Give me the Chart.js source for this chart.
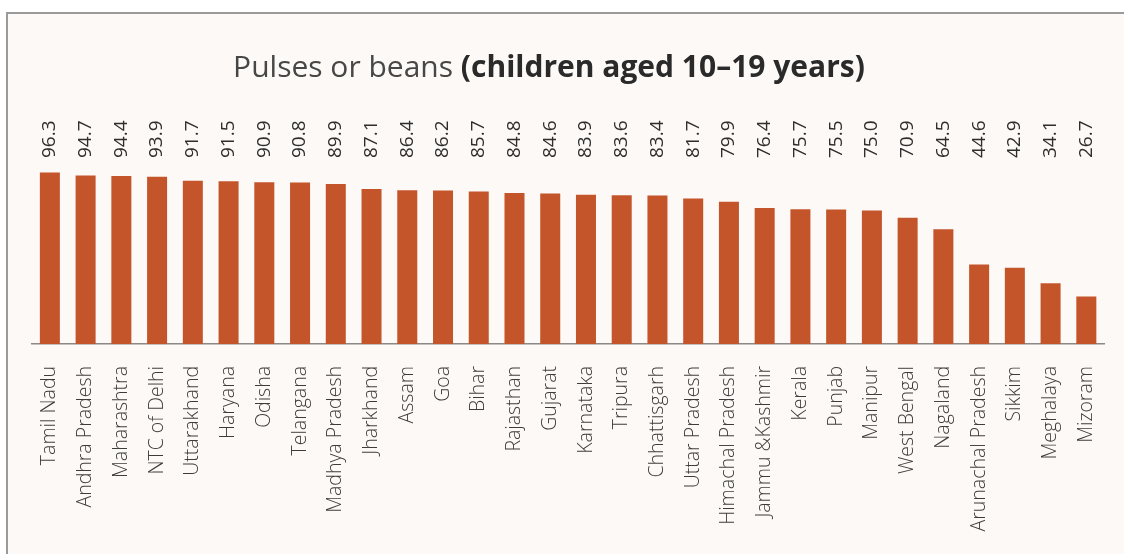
<!DOCTYPE html>
<html>
<head>
<meta charset="utf-8">
<script src="https://cdn.jsdelivr.net/npm/chart.js@4.4.1/dist/chart.umd.min.js"></script>
<style>
  html, body { margin: 0; padding: 0; background: #fff; overflow: hidden; width: 1124px; height: 554px; }
  .frame {
    position: absolute; left: 6px; top: 12px;
    width: 1130px; height: 560px;
    border: 2px solid #9a9a9a;
    background: #fdf9f6;
  }
  .frame canvas { position: absolute; left: 0; top: 0; }
</style>
</head>
<body>
<div class="frame">
  <canvas id="chart" width="1116" height="540"></canvas>
</div>
<script>
const states = [
  'Tamil Nadu', 'Andhra Pradesh', 'Maharashtra', 'NTC of Delhi', 'Uttarakhand',
  'Haryana', 'Odisha', 'Telangana', 'Madhya Pradesh', 'Jharkhand', 'Assam', 'Goa',
  'Bihar', 'Rajasthan', 'Gujarat', 'Karnataka', 'Tripura', 'Chhattisgarh',
  'Uttar Pradesh', 'Himachal Pradesh', 'Jammu &Kashmir', 'Kerala', 'Punjab',
  'Manipur', 'West Bengal', 'Nagaland', 'Arunachal Pradesh', 'Sikkim',
  'Meghalaya', 'Mizoram'
];
const pulses = [
  96.3, 94.7, 94.4, 93.9, 91.7, 91.5, 90.9, 90.8, 89.9, 87.1, 86.4, 86.2,
  85.7, 84.8, 84.6, 83.9, 83.6, 83.4, 81.7, 79.9, 76.4, 75.7, 75.5, 75.0,
  70.9, 64.5, 44.6, 42.9, 34.1, 26.7
];
const titleMain = 'Pulses or beans ';
const titleBold = '(children aged 10–19 years)';

// title with two weights, drawn centred
const titlePlugin = {
  id: 'mixedTitle',
  afterDraw(chart) {
    const ctx = chart.ctx;
    ctx.save();
    ctx.textBaseline = 'middle';
    ctx.font = '400 30px "Open Sans"';
    const w1 = ctx.measureText(titleMain).width;
    ctx.font = '700 30px "Open Sans"';
    const w2 = ctx.measureText(titleBold).width;
    let x = 541 - (w1 + w2) / 2;
    const y = 54;
    ctx.textAlign = 'left';
    ctx.font = '400 30px "Open Sans"';
    ctx.fillStyle = '#474747';
    ctx.fillText(titleMain, x, y);
    ctx.font = '700 30px "Open Sans"';
    ctx.fillStyle = '#2a2a2a';
    ctx.fillText(titleBold, x + w1, y);
    ctx.restore();
  }
};

// value labels, all on one row above the bars
const valuePlugin = {
  id: 'valueRow',
  afterDatasetsDraw(chart) {
    const ctx = chart.ctx;
    const meta = chart.getDatasetMeta(0);
    ctx.save();
    ctx.font = '400 19px "Open Sans"';
    ctx.fillStyle = '#2e2e2e';
    ctx.textAlign = 'left';
    ctx.textBaseline = 'middle';
    meta.data.forEach((bar, i) => {
      ctx.save();
      ctx.translate(bar.x, 144);
      ctx.rotate(-Math.PI / 2);
      ctx.fillText(pulses[i].toFixed(1), 0, 0);
      ctx.restore();
    });
    ctx.restore();
  }
};

new Chart(document.getElementById('chart'), {
  type: 'bar',
  data: {
    labels: states,
    datasets: [{
      label: 'Pulses or beans',
      data: pulses,
      backgroundColor: '#c4552b',
      categoryPercentage: 1,
      barPercentage: 0.56,
    }],
  },
  options: {
    responsive: false,
    animation: false,
    layout: { padding: { top: 152, left: 24, right: 16, bottom: 0 } },
    plugins: { legend: { display: false }, tooltip: { enabled: false }, title: { display: false } },
    scales: {
      x: {
        grid: { display: false },
        border: { display: true, color: '#8a8a8a', width: 1.5 },
        ticks: {
          color: '#3c3c3c',
          font: { family: 'Open Sans', size: 19.5, weight: 300 },
          minRotation: 90, maxRotation: 90,
          padding: 14,
          autoSkip: false,
        },
        afterFit: scale => { scale.height = 210; },
      },
      y: { display: false, min: 0, max: 100 },
    },
  },
  plugins: [titlePlugin, valuePlugin],
});
</script>
</body>
</html>
